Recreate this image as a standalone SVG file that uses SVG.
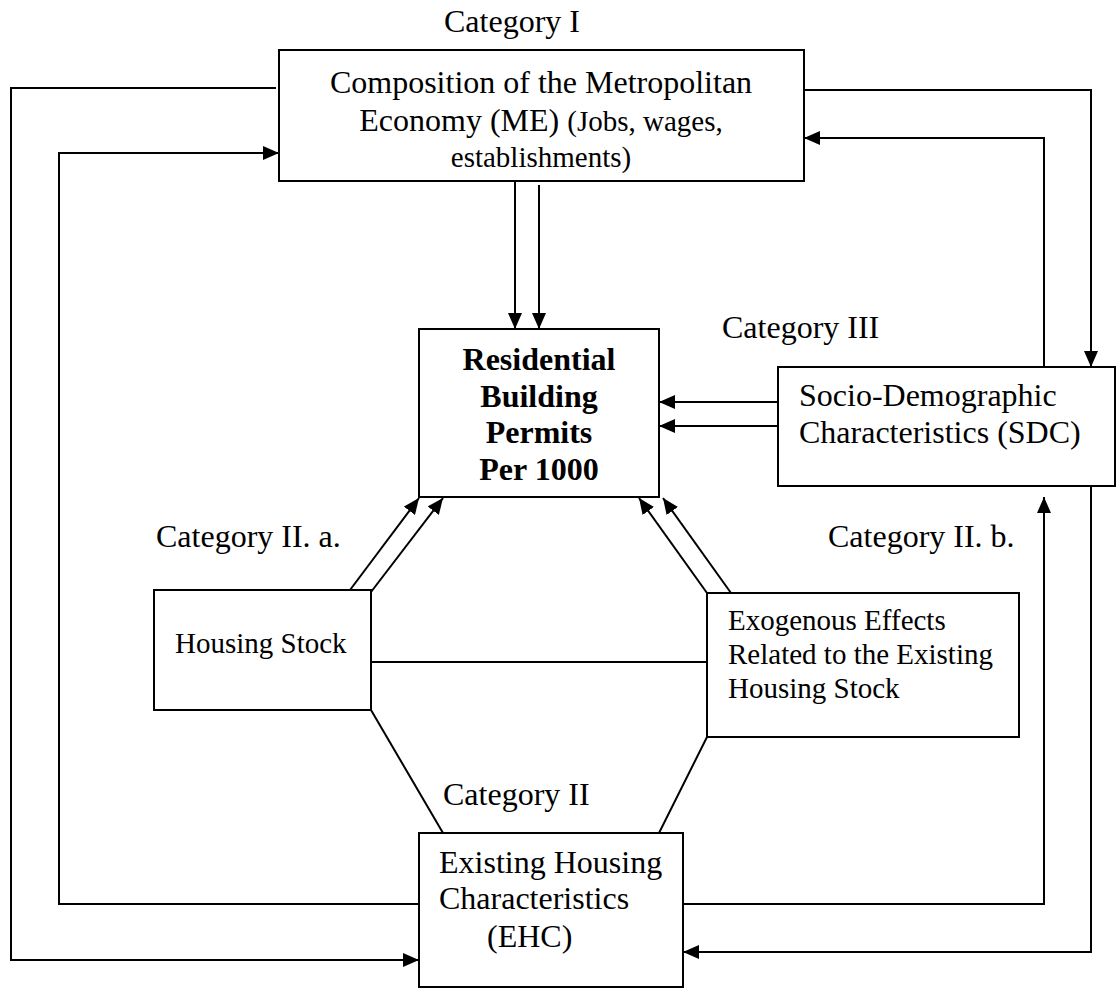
<svg xmlns="http://www.w3.org/2000/svg" width="1120" height="994" viewBox="0 0 1120 994">
<style>
.box{fill:#fff;stroke:#000;stroke-width:2}
.ln{fill:none;stroke:#000;stroke-width:2}
.t{font-family:"Liberation Serif","Times New Roman",serif;fill:#000}
.l{font-size:32px}
.s{font-size:29px}
.b{font-size:32px;font-weight:bold}
</style>
<defs>
<marker id="ah" markerUnits="userSpaceOnUse" markerWidth="16" markerHeight="14" refX="16" refY="7" orient="auto">
<path d="M0,0 L16,7 L0,14 z" fill="#000"/>
</marker>
</defs>
<g id="connectors">
<line class="ln" x1="515" y1="181" x2="515" y2="329" marker-end="url(#ah)"/>
<line class="ln" x1="539" y1="185" x2="539" y2="329" marker-end="url(#ah)"/>
<line class="ln" x1="778" y1="402" x2="659" y2="402" marker-end="url(#ah)"/>
<line class="ln" x1="778" y1="426" x2="659" y2="426" marker-end="url(#ah)"/>
<line class="ln" x1="350" y1="590" x2="419" y2="498" marker-end="url(#ah)"/>
<line class="ln" x1="371" y1="592" x2="443" y2="498" marker-end="url(#ah)"/>
<line class="ln" x1="707" y1="593" x2="639" y2="498" marker-end="url(#ah)"/>
<line class="ln" x1="731" y1="593" x2="663" y2="498" marker-end="url(#ah)"/>
<line class="ln" x1="371" y1="662" x2="707" y2="662"/>
<line class="ln" x1="371" y1="710" x2="443" y2="833"/>
<line class="ln" x1="707" y1="737" x2="659" y2="833"/>
<polyline class="ln" points="276,88 11,88 11,960 419,960" marker-end="url(#ah)"/>
<polyline class="ln" points="419,904 59,904 59,153 279,153" marker-end="url(#ah)"/>
<polyline class="ln" points="803,90 1091,90 1091,367" marker-end="url(#ah)"/>
<polyline class="ln" points="1044,367 1044,138 804,138" marker-end="url(#ah)"/>
<polyline class="ln" points="1091,486 1091,952 683,952" marker-end="url(#ah)"/>
<polyline class="ln" points="683,904 1044,904 1044,497" marker-end="url(#ah)"/>
</g>
<g id="labels">
<text class="t l" x="444" y="32">Category I</text>
<text class="t l" x="722" y="338">Category III</text>
<text class="t l" x="156" y="547">Category II. a.</text>
<text class="t l" x="828" y="547">Category II. b.</text>
<text class="t l" x="443" y="805">Category II</text>
</g>
<g id="node-me">
<rect class="box" x="279" y="50" width="525" height="131"/>
<text class="t l" x="541" y="93" text-anchor="middle">Composition of the Metropolitan</text>
<text class="t" x="541" y="131" text-anchor="middle"><tspan class="l">Economy (ME) </tspan><tspan class="s">(Jobs, wages,</tspan></text>
<text class="t s" x="541" y="167" text-anchor="middle">establishments)</text>
</g>
<g id="node-rbp">
<rect class="box" x="419" y="329" width="240" height="168"/>
<text class="t b" x="539" y="370" text-anchor="middle">Residential</text>
<text class="t b" x="539" y="407" text-anchor="middle">Building</text>
<text class="t b" x="539" y="443" text-anchor="middle">Permits</text>
<text class="t b" x="539" y="480" text-anchor="middle">Per 1000</text>
</g>
<g id="node-sdc">
<rect class="box" x="778" y="367" width="337" height="119"/>
<text class="t l" x="799" y="406">Socio-Demographic</text>
<text class="t l" x="799" y="443">Characteristics (SDC)</text>
</g>
<g id="node-hs">
<rect class="box" x="154" y="590" width="217" height="120"/>
<text class="t s" x="175" y="653">Housing Stock</text>
</g>
<g id="node-exo">
<rect class="box" x="707" y="593" width="312" height="144"/>
<text class="t s" x="728" y="630">Exogenous Effects</text>
<text class="t s" x="728" y="664">Related to the Existing</text>
<text class="t s" x="728" y="698">Housing Stock</text>
</g>
<g id="node-ehc">
<rect class="box" x="419" y="833" width="264" height="154"/>
<text class="t l" x="439" y="873">Existing Housing</text>
<text class="t l" x="439" y="909">Characteristics</text>
<text class="t l" x="487" y="947">(EHC)</text>
</g>
</svg>
